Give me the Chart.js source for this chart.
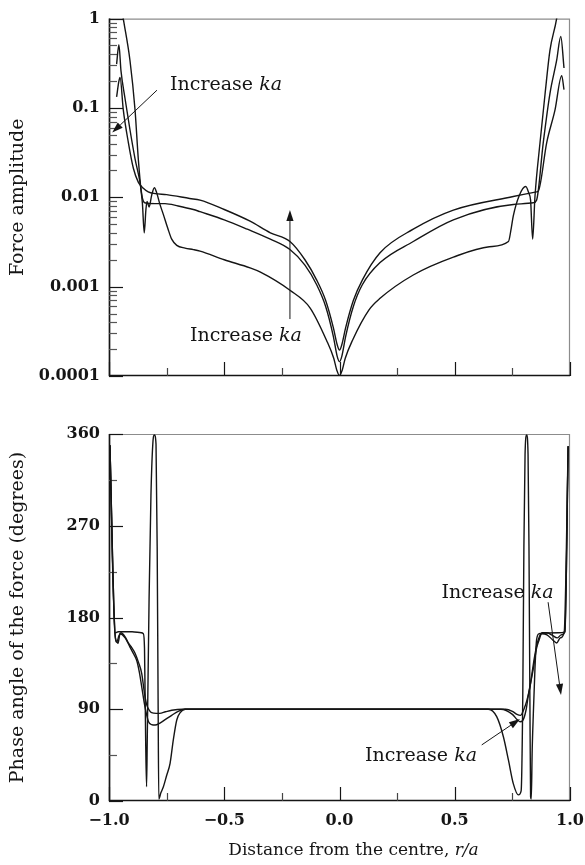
<!DOCTYPE html>
<html><head><meta charset="utf-8">
<script src="https://cdn.jsdelivr.net/npm/chart.js@4/dist/chart.umd.min.js"></script>
<style>
html,body{margin:0;padding:0;background:#fff;width:585px;height:865px;overflow:hidden;}
#c1{position:absolute;left:0;top:0;}
#c2{position:absolute;left:0;top:400px;}
</style></head><body>
<canvas id="c1" width="585" height="400"></canvas>
<canvas id="c2" width="585" height="465"></canvas>
<script>
// ---------- DATA ----------
// Force amplitude, three ka values (1 = lowest ka)
const ampR1 = [-0.967,-0.938,-0.909,-0.887,-0.873,-0.862,-0.855,-0.847,-0.840,-0.835,-0.826,-0.815,-0.803,-0.792,-0.78,-0.764,-0.745,-0.728,-0.706,-0.67,-0.634,-0.605,-0.5,-0.388,-0.345,-0.215,-0.128,-0.056,-0.025,-0.012,0,0.012,0.025,0.056,0.128,0.176,0.32,0.494,0.65,0.733,0.745,0.754,0.78,0.808,0.822,0.829,0.838,0.848,0.87,0.892,0.913,0.942,0.967];
const ampV1 = [3.0,1.0,0.34,0.095,0.027,0.0126,0.0085,0.004,0.0072,0.009,0.0078,0.0105,0.0128,0.011,0.0085,0.0064,0.0045,0.0034,0.0029,0.0027,0.0026,0.0025,0.0020,0.00162,0.00146,0.00091,0.00058,0.00025,0.000158,0.000117,0.000101,0.000117,0.000158,0.00025,0.00055,0.00074,0.00135,0.00214,0.0028,0.0032,0.0045,0.0062,0.0105,0.0132,0.011,0.0093,0.0034,0.0102,0.041,0.145,0.44,1.0,3.0];
const ampR2 = [-0.967,-0.957,-0.948,-0.931,-0.909,-0.887,-0.866,-0.855,-0.845,-0.80,-0.757,-0.70,-0.634,-0.605,-0.5,-0.4,-0.3,-0.215,-0.15,-0.099,-0.06,-0.027,-0.01,0,0.01,0.027,0.06,0.099,0.176,0.32,0.494,0.754,0.841,0.855,0.884,0.913,0.942,0.96,0.974];
const ampV2 = [0.31,0.51,0.26,0.13,0.057,0.027,0.015,0.0098,0.0087,0.0085,0.0085,0.0080,0.0073,0.0069,0.0056,0.0044,0.0034,0.0026,0.00174,0.00105,0.0006,0.00028,0.000166,0.000145,0.000166,0.00028,0.0006,0.00105,0.00186,0.0032,0.0056,0.0083,0.0087,0.0093,0.041,0.145,0.34,0.63,0.28];
const ampR3 = [-0.967,-0.957,-0.952,-0.938,-0.916,-0.894,-0.873,-0.851,-0.83,-0.80,-0.75,-0.65,-0.605,-0.5,-0.388,-0.3,-0.215,-0.15,-0.1,-0.06,-0.027,-0.01,0,0.01,0.027,0.06,0.1,0.176,0.32,0.494,0.754,0.855,0.863,0.899,0.935,0.964,0.974];
const ampV3 = [0.133,0.20,0.22,0.095,0.041,0.021,0.0148,0.0126,0.0115,0.011,0.0107,0.0097,0.0093,0.0073,0.0054,0.0040,0.0032,0.0020,0.0012,0.0007,0.00035,0.000224,0.000195,0.000224,0.00035,0.0007,0.0012,0.0024,0.0044,0.0072,0.0102,0.0115,0.0118,0.041,0.095,0.23,0.16];

// Phase angle (degrees)
const phR1 = [-0.996,-0.974,-0.96,-0.90,-0.86,-0.851,-0.846,-0.841,-0.837,-0.834,-0.826,-0.818,-0.810,-0.803,-0.796,-0.791,-0.787,-0.784,-0.775,-0.764,-0.75,-0.735,-0.721,-0.706,-0.69,-0.67,0.646,0.682,0.711,0.733,0.754,0.776,0.788,0.795,0.800,0.805,0.812,0.818,0.822,0.826,0.829,0.832,0.836,0.841,0.848,0.855,0.865,0.95,0.978,0.992];
const phV1 = [349,165,166,166,165,164,150,60,14,60,200,300,350,359,350,250,100,2,8,14,25,37,60,79.5,87,90,90,82.7,63,40,17,6,10,100,250,340,359,340,250,100,4,2,50,86,130,158,164,165,166,348];
const phR2 = [-0.996,-0.974,-0.966,-0.957,-0.948,-0.93,-0.916,-0.9,-0.887,-0.872,-0.858,-0.845,-0.836,-0.825,-0.815,-0.795,-0.78,-0.755,-0.728,-0.68,0.72,0.75,0.77,0.785,0.80,0.812,0.825,0.835,0.845,0.855,0.865,0.88,0.90,0.92,0.945,0.962,0.978,0.992];
const phV2 = [349,164,156,162,165,161,155,150,145,136,125,104,94,89,86.6,86,86,87.5,89,90,90,88,85,84,90,98,110,125,140,152,160,165,165,163,160,163,166,348];
const phR3 = [-0.996,-0.974,-0.966,-0.961,-0.952,-0.93,-0.909,-0.895,-0.88,-0.868,-0.858,-0.844,-0.829,-0.815,-0.8,-0.779,-0.755,-0.728,-0.7,-0.67,0.70,0.75,0.77,0.783,0.795,0.81,0.82,0.831,0.841,0.855,0.866,0.877,0.90,0.925,0.942,0.958,0.975,0.992];
const phV3 = [349,164,156,154.7,164,160,151,145,138,126,112,92.5,78,75,74.5,76.5,80,84,88,90,90,85,80,77.8,79,90,105,118,130,150,158,164,163,158,155,160,166,348];

// Tick labels
const ampTicks = [0.0001,0.001,0.01,0.1,1];
const ampTickLabels = ['0.0001','0.001','0.01','0.1','1'];
const phTicks = [0,90,180,270,360];
const phTickLabels = ['0','90','180','270','360'];
const distTicks = [-1,-0.5,0,0.5,1];
const distTickLabels = ['\u22121.0','\u22120.5','0.0','0.5','1.0'];
const distMinor = [-0.75,-0.25,0.25,0.75];
const phMinor = [45,135,225,315];

// Annotations (data coordinates)
const topNotes = [
  {tx:-0.735, ty:0.179, ax:-0.792, ay:0.158, bx:-0.986, by:0.053},
  {tx:-0.649, ty:0.00028, ax:-0.215, ay:0.000434, bx:-0.215, by:0.0072}
];
const botNotes = [
  {tx:0.443, ty:204, ax:0.905, ay:195, bx:0.961, by:104},
  {tx:0.111, ty:44, ax:0.617, ay:55, bx:0.783, by:80.4}
];

// ---------- helpers ----------
const FONT = '"DejaVu Serif", "Liberation Serif", serif';
const INK = '#151515';
const NOTE_PX = 19;
function pts(r, v){ return r.map((x,i)=>({x:x, y:v[i]})); }
function ds(r, v){
  return {data: pts(r,v), borderColor: INK, borderWidth: 1.4, pointRadius: 0,
          fill:false, cubicInterpolationMode:'monotone'};
}
function drawNote(ctx, xs, ys, n){
  const tx = xs.getPixelForValue(n.tx), ty = ys.getPixelForValue(n.ty);
  ctx.save();
  ctx.fillStyle = INK; ctx.textBaseline = 'middle'; ctx.textAlign = 'left';
  ctx.font = NOTE_PX + 'px ' + FONT;
  ctx.fillText('Increase ', tx, ty);
  const w = ctx.measureText('Increase ').width;
  ctx.font = 'italic ' + NOTE_PX + 'px ' + FONT;
  ctx.fillText('ka', tx + w, ty);
  const x1 = xs.getPixelForValue(n.ax), y1 = ys.getPixelForValue(n.ay);
  const x2 = xs.getPixelForValue(n.bx), y2 = ys.getPixelForValue(n.by);
  const ang = Math.atan2(y2-y1, x2-x1), L = 11, H = 3.6;
  const bx = x2 - L*Math.cos(ang), by = y2 - L*Math.sin(ang);
  ctx.strokeStyle = INK; ctx.lineWidth = 1;
  ctx.beginPath(); ctx.moveTo(x1,y1); ctx.lineTo(bx,by); ctx.stroke();
  ctx.beginPath(); ctx.moveTo(x2,y2);
  ctx.lineTo(bx + H*Math.sin(ang), by - H*Math.cos(ang));
  ctx.lineTo(bx - H*Math.sin(ang), by + H*Math.cos(ang));
  ctx.closePath(); ctx.fill();
  ctx.restore();
}
function frame(ctx, a){
  ctx.strokeStyle = '#8c8c8c'; ctx.lineWidth = 1.2;
  ctx.beginPath(); ctx.moveTo(a.left, a.top+0.5); ctx.lineTo(a.right-0.5, a.top+0.5); ctx.lineTo(a.right-0.5, a.bottom); ctx.stroke();
  ctx.strokeStyle = INK; ctx.lineWidth = 1.7;
  ctx.beginPath(); ctx.moveTo(a.left+0.5, a.top); ctx.lineTo(a.left+0.5, a.bottom-0.5); ctx.lineTo(a.right, a.bottom-0.5); ctx.stroke();
}
function xTicks(ctx, a, xs){
  ctx.lineWidth = 1.2;
  ctx.strokeStyle = INK;
  distTicks.forEach(v => { const x = Math.round(xs.getPixelForValue(v)) + 0.5;
    ctx.beginPath(); ctx.moveTo(x, a.bottom); ctx.lineTo(x, a.bottom-14); ctx.stroke(); });
  ctx.strokeStyle = '#444';
  distMinor.forEach(v => { const x = Math.round(xs.getPixelForValue(v)) + 0.5;
    ctx.beginPath(); ctx.moveTo(x, a.bottom); ctx.lineTo(x, a.bottom-8); ctx.stroke(); });
}
function yTickMarks(ctx, a, ys, major, minor){
  ctx.lineWidth = 1.2;
  ctx.strokeStyle = INK;
  major.forEach(v => { const y = Math.round(ys.getPixelForValue(v)) + 0.5;
    ctx.beginPath(); ctx.moveTo(a.left, y); ctx.lineTo(a.left+14, y); ctx.stroke(); });
  ctx.strokeStyle = '#555';
  minor.forEach(v => { const y = Math.round(ys.getPixelForValue(v)) + 0.5;
    ctx.beginPath(); ctx.moveTo(a.left, y); ctx.lineTo(a.left+8, y); ctx.stroke(); });
}
const logMinor = [];
[-4,-3,-2,-1].forEach(d => { for (let m=2; m<=9; m++) logMinor.push(m*Math.pow(10,d)); });

const tickFont = {family: FONT, size: 16, weight: 'bold'};
const titleFont = {family: FONT, size: 19};

// ---------- top chart ----------
new Chart(document.getElementById('c1'), {
  type: 'line',
  data: {datasets: [ds(ampR1,ampV1), ds(ampR2,ampV2), ds(ampR3,ampV3)]},
  options: {
    responsive:false, animation:false, events:[], devicePixelRatio:1,
    layout:{padding:{left:0, right:15, top:12, bottom:0}},
    plugins:{legend:{display:false}, tooltip:{enabled:false}},
    scales:{
      x:{type:'linear', min:-1, max:1,
         grid:{display:false}, border:{display:false},
         ticks:{display:false},
         afterFit: s => { s.height = 24; s.paddingLeft = 0; s.paddingRight = 0; }},
      y:{type:'logarithmic', min:0.0001, max:1,
         grid:{display:false, drawTicks:false}, border:{display:false},
         afterBuildTicks: s => { s.ticks = ampTicks.map(v => ({value:v})); },
         ticks:{color:INK, font:tickFont, padding:9, autoSkip:false,
                callback: v => { const i = ampTicks.findIndex(t => Math.abs(t-v)/t < 1e-6); return i>=0 ? ampTickLabels[i] : ''; }},
         title:{display:true, text:'Force amplitude', color:INK, font:titleFont, padding:{top:7, bottom:0}},
         afterFit: s => { s.width = 109; }}
    }
  },
  plugins:[{
    id:'deco1',
    beforeDatasetsDraw(chart){
      const {ctx, chartArea:a, scales:{x:xs, y:ys}} = chart;
      ctx.save(); frame(ctx,a); xTicks(ctx,a,xs); yTickMarks(ctx,a,ys,ampTicks,logMinor); ctx.restore();
    },
    afterDatasetsDraw(chart){
      const {ctx, scales:{x:xs, y:ys}} = chart;
      topNotes.forEach(n => drawNote(ctx, xs, ys, n));
    }
  }]
});

// ---------- bottom chart ----------
new Chart(document.getElementById('c2'), {
  type: 'line',
  data: {datasets: [ds(phR1,phV1), ds(phR2,phV2), ds(phR3,phV3)]},
  options: {
    responsive:false, animation:false, events:[], devicePixelRatio:1,
    layout:{padding:{left:0, right:15, top:34, bottom:0}},
    plugins:{legend:{display:false}, tooltip:{enabled:false}},
    scales:{
      x:{type:'linear', min:-1, max:1,
         grid:{display:false, drawTicks:false}, border:{display:false},
         afterBuildTicks: s => { s.ticks = distTicks.map(v => ({value:v})); },
         ticks:{color:INK, font:tickFont, padding:10, autoSkip:false, maxRotation:0,
                callback: v => { const i = distTicks.findIndex(t => Math.abs(t-v) < 1e-9); return i>=0 ? distTickLabels[i] : ''; }},
         afterFit: s => { s.height = 64; s.paddingLeft = 0; s.paddingRight = 0; }},
      y:{type:'linear', min:0, max:360,
         grid:{display:false, drawTicks:false}, border:{display:false},
         afterBuildTicks: s => { s.ticks = phTicks.map(v => ({value:v})); },
         ticks:{color:INK, font:tickFont, padding:9, autoSkip:false,
                callback: v => { const i = phTicks.indexOf(v); return i>=0 ? phTickLabels[i] : ''; }},
         title:{display:true, text:'Phase angle of the force (degrees)', color:INK, font:titleFont, padding:{top:7, bottom:0}},
         afterFit: s => { s.width = 109; }}
    }
  },
  plugins:[{
    id:'deco2',
    beforeDatasetsDraw(chart){
      const {ctx, chartArea:a, scales:{x:xs, y:ys}} = chart;
      ctx.save(); frame(ctx,a); xTicks(ctx,a,xs); yTickMarks(ctx,a,ys,phTicks,phMinor); ctx.restore();
    },
    afterDatasetsDraw(chart){
      const {ctx, chartArea:a, scales:{x:xs, y:ys}} = chart;
      botNotes.forEach(n => drawNote(ctx, xs, ys, n));
      // x-axis title with italic r/a
      ctx.save();
      ctx.fillStyle = INK; ctx.textBaseline = 'middle'; ctx.textAlign = 'left';
      const t1 = 'Distance from the centre, ', t2 = 'r/a';
      ctx.font = '17px ' + FONT; const w1 = ctx.measureText(t1).width;
      ctx.font = 'italic 17px ' + FONT; const w2 = ctx.measureText(t2).width;
      const cx = (a.left + a.right)/2 + 14, x0 = cx - (w1+w2)/2, y = 451;
      ctx.font = '17px ' + FONT; ctx.fillText(t1, x0, y);
      ctx.font = 'italic 17px ' + FONT; ctx.fillText(t2, x0 + w1, y);
      ctx.restore();
    }
  }]
});
</script>
</body></html>
